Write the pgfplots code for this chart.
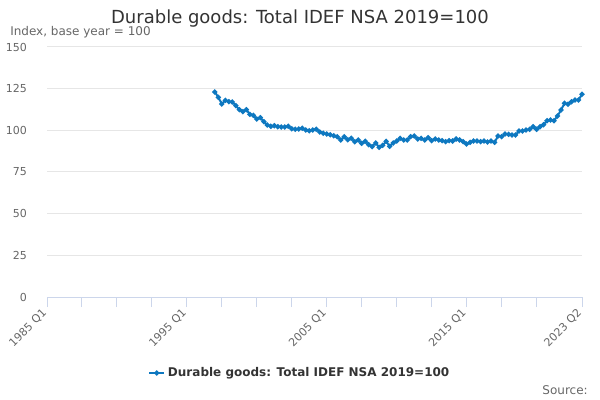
\documentclass[border=0pt]{standalone}
\usepackage{pgfplots}
\pgfplotsset{compat=1.18}
\usepackage{fontspec}
\setmainfont{DejaVu Sans}
\definecolor{lineblue}{RGB}{14,120,192}
\definecolor{titlegray}{HTML}{333333}
\definecolor{labelgray}{HTML}{666666}
\definecolor{gridgray}{HTML}{E6E6E6}
\definecolor{xaxiscol}{HTML}{CCD6EB}
\pgfplotstableread{
q v
48 123.0
49 119.8
50 115.8
51 118.0
52 117.2
53 117.0
54 114.8
55 112.4
56 111.2
57 112.4
58 109.6
59 109.0
60 106.8
61 107.6
62 105.2
63 103.2
64 102.4
65 102.8
66 102.2
67 102.0
68 102.0
69 102.4
70 101.0
71 100.6
72 100.8
73 101.2
74 100.2
75 99.8
76 100.2
77 100.6
78 99.0
79 98.2
80 97.8
81 97.4
82 96.8
83 96.2
84 94.2
85 96.2
86 94.4
87 95.2
88 93.2
89 94.2
90 92.2
91 93.4
92 91.4
93 90.2
94 92.4
95 89.8
96 91.0
97 93.4
98 90.4
99 92.4
100 93.6
101 95.2
102 94.2
103 94.2
104 96.2
105 96.6
106 94.8
107 95.2
108 94.2
109 95.6
110 93.8
111 94.8
112 94.2
113 93.8
114 93.2
115 93.8
116 93.6
117 94.8
118 94.2
119 93.2
120 91.8
121 92.8
122 93.6
123 93.6
124 93.2
125 93.6
126 93.0
127 93.6
128 92.8
129 96.6
130 96.2
131 97.8
132 97.6
133 97.2
134 97.2
135 99.6
136 99.6
137 100.2
138 100.6
139 102.2
140 100.6
141 102.2
142 103.4
143 105.8
144 106.2
145 105.8
146 108.6
147 112.2
148 116.2
149 115.6
150 117.2
151 118.2
152 118.2
153 121.6
}\datatable
\begin{document}
\begin{tikzpicture}
\path[use as bounding box] (0,0) rectangle (450pt,300pt);
\begin{axis}[
  at={(35.25pt,77.25pt)}, anchor=south west,
  scale only axis, width=401.25pt, height=187.5pt,
  xmin=0, xmax=153, ymin=0, ymax=150,
  axis x line*=bottom, axis y line*=left,
  y axis line style={draw=none},
  x axis line style={draw=xaxiscol, line width=0.75pt},
  ytick={0,25,...,150},
  xtick={0,40,80,120,153},
  xticklabels={1985 Q1,1995 Q1,2005 Q1,2015 Q1,2023 Q2},
  minor xtick={10,20,30,50,60,70,90,100,110,130,140},
  ymajorgrids, grid style={draw=gridgray, line width=0.75pt},
  ytick style={draw=none},
  xtick style={draw=xaxiscol, line width=0.75pt},
  minor x tick style={draw=xaxiscol, line width=0.75pt},
  tick align=outside, major tick length=7.5pt, minor tick length=7.5pt,
  /pgf/number format/assume math mode=true,
  tick label style={font=\fontsize{8.25}{10}\selectfont, text=labelgray},
  y tick label style={anchor=east, xshift=-4pt},
  x tick label style={rotate=45, anchor=east, yshift=-1pt},
  legend style={at={(0.473,-0.304)}, anchor=center, draw=none, fill=none,
    font=\fontsize{9}{11}\selectfont\bfseries, text=titlegray},
  legend image code/.code={\draw[mark repeat=2,mark phase=2] plot coordinates {(0cm,0cm)(0.2cm,0cm)(0.4cm,0cm)};},
]
\addplot[color=lineblue, line width=1.5pt, mark=*, mark size=1.1pt, mark options={solid}] table[x=q,y=v] {\datatable};
\addlegendentry{Durable goods: Total IDEF NSA 2019=100}
\end{axis}
\node[anchor=base, text=titlegray, font=\fontsize{13.5}{16}\selectfont] at (225pt,282pt) {Durable goods: Total IDEF NSA 2019=100};
\node[anchor=base west, inner sep=0pt, text=labelgray, font=\fontsize{9}{11}\selectfont] at (7.5pt,273.4pt) {Index, base year = 100};
\node[anchor=base east, inner sep=0pt, text=labelgray, font=\fontsize{9}{11}\selectfont] at (441pt,4pt) {Source:};
\end{tikzpicture}
\end{document}
